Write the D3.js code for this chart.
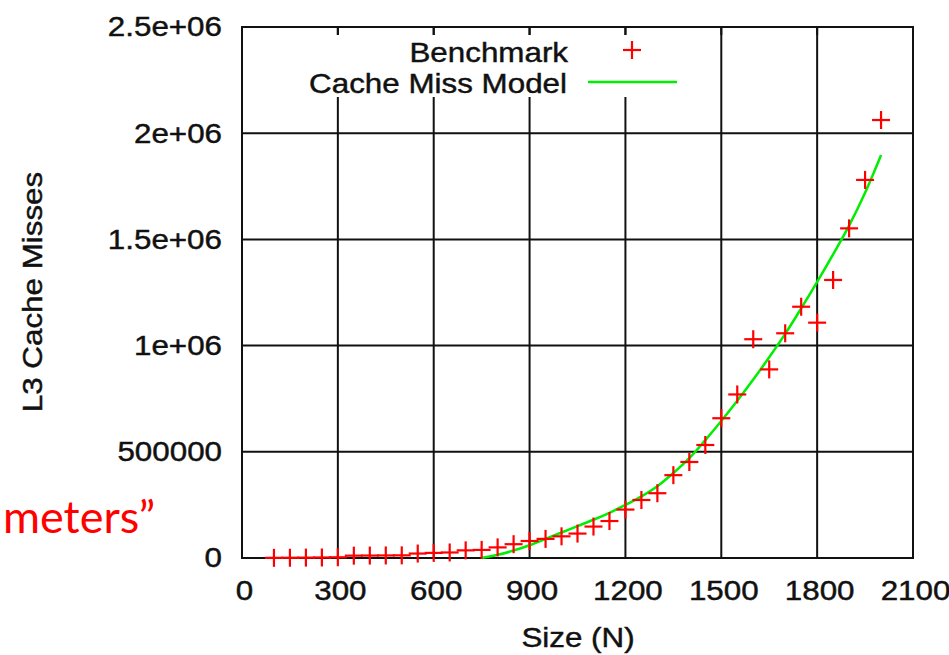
<!DOCTYPE html>
<html>
<head>
<meta charset="utf-8">
<script src="https://cdn.jsdelivr.net/npm/d3@7"></script>
<style>
  html, body { margin: 0; padding: 0; background: #fff; }
  svg { display: block; }
  text.lbl { font-family: "Liberation Sans", Arial, Helvetica, sans-serif; fill: #111;
    stroke: #111; stroke-width: 0.45px; }
</style>
</head>
<body>
<svg id="chart" width="949" height="655"></svg>
<script>
// Matrix size N and measured L3 cache misses
const benchN = [100, 150, 200, 250, 300, 350, 400, 450, 500, 550, 600, 650, 700, 750,
  800, 850, 900, 950, 1000, 1050, 1100, 1150, 1200, 1250, 1300, 1350, 1400, 1450,
  1500, 1550, 1600, 1650, 1700, 1750, 1800, 1850, 1900, 1950, 2000];
const benchMisses = [800, 1200, 1800, 2500, 3500, 11000, 11500, 12000, 12500, 21000,
  24000, 26000, 36000, 38000, 50000, 65000, 80000, 90000, 102000, 115000, 148000,
  174000, 228000, 273000, 305000, 390000, 452000, 532000, 658000, 770000, 1030000,
  888000, 1058000, 1183000, 1108000, 1309000, 1552000, 1780000, 2062000];

// Predicted misses from the cache miss model
const modelN = [750, 800, 850, 900, 950, 1000, 1050, 1100, 1150, 1200, 1250, 1300, 1350,
  1400, 1450, 1500, 1550, 1600, 1650, 1700, 1750, 1800, 1850, 1900, 1950, 2000];
const modelMisses = [0, 15000, 35000, 60000, 90000, 120000, 150000, 180000, 213000,
  250000, 290000, 338000, 400000, 470000, 555000, 645000, 740000, 840000, 945000,
  1055000, 1175000, 1300000, 1430000, 1565000, 1720000, 1897000];

// Axis ticks
const xTicks = [0, 300, 600, 900, 1200, 1500, 1800, 2100];
const yTicks = [0, 500000, 1000000, 1500000, 2000000, 2500000];
const yTickLabels = ["0", "500000", "1e+06", "1.5e+06", "2e+06", "2.5e+06"];

const seriesNames = ["Benchmark", "Cache Miss Model"];

const svg = d3.select("#chart");
const plotL = 242, plotR = 913, plotT = 27, plotB = 558;
const FS = 28, SX = 1.12;   // font size and horizontal stretch of the labels

const x = d3.scaleLinear().domain([0, 2100]).range([plotL, plotR]);
const y = d3.scaleLinear().domain([0, 2500000]).range([plotB, plotT]);

// grid
const grid = svg.append("g").attr("stroke", "#111").attr("stroke-width", 2);
grid.selectAll("line.v").data(xTicks).join("line").attr("class", "v")
  .attr("x1", d => x(d)).attr("x2", d => x(d)).attr("y1", plotT).attr("y2", plotB);
grid.selectAll("line.h").data(yTicks).join("line").attr("class", "h")
  .attr("x1", plotL).attr("x2", plotR).attr("y1", d => y(d)).attr("y2", d => y(d));

// opaque key area
svg.append("rect").attr("x", 298).attr("y", 35).attr("width", 388).attr("height", 62)
  .attr("fill", "#fff");

// mirrored ticks along the top border
svg.append("g").attr("stroke", "#111").attr("stroke-width", 2)
  .selectAll("line").data(xTicks).join("line")
  .attr("x1", d => x(d)).attr("x2", d => x(d)).attr("y1", plotT).attr("y2", plotT + 8);

// frame
svg.append("rect").attr("x", plotL).attr("y", plotT)
  .attr("width", plotR - plotL).attr("height", plotB - plotT)
  .attr("fill", "none").attr("stroke", "#111").attr("stroke-width", 2);

// axes (labels only, the frame and grid provide the lines)
const xAxis = svg.append("g").attr("transform", `translate(0,${plotB})`)
  .call(d3.axisBottom(x).tickValues(xTicks).tickSize(0).tickPadding(22).tickFormat(d3.format("d")));
const yAxis = svg.append("g").attr("transform", `translate(${plotL},0)`)
  .call(d3.axisLeft(y).tickValues(yTicks).tickSize(0).tickPadding(20)
    .tickFormat((d, i) => yTickLabels[i]));
[xAxis, yAxis].forEach(g => {
  g.select(".domain").remove();
  g.attr("font-family", null).attr("font-size", null);
  g.selectAll("text").attr("class", "lbl").attr("font-size", FS).attr("fill", null);
});
xAxis.selectAll("text").attr("x", 2 / SX).attr("transform", `scale(${SX},1)`);
yAxis.selectAll("text").attr("x", -20 / SX).attr("transform", `scale(${SX},1)`);

// axis titles
svg.append("text").attr("class", "lbl").attr("transform", `translate(578,647) scale(${SX},1)`)
  .attr("text-anchor", "middle").attr("font-size", FS).text("Size (N)");
svg.append("text").attr("class", "lbl").attr("transform", `translate(42,292) rotate(-90) scale(${SX},1)`)
  .attr("text-anchor", "middle").attr("font-size", FS).text("L3 Cache Misses");

// model curve
const line = d3.line().curve(d3.curveMonotoneX).x((d, i) => x(modelN[i])).y(d => y(d));
svg.append("path").datum(modelMisses).attr("d", line)
  .attr("fill", "none").attr("stroke", "#00ee00").attr("stroke-width", 2.5);

// benchmark markers
const plus = (g, cx, cy) => {
  g.append("line").attr("x1", cx - 9).attr("x2", cx + 9).attr("y1", cy).attr("y2", cy);
  g.append("line").attr("x1", cx).attr("x2", cx).attr("y1", cy - 9).attr("y2", cy + 9);
};
const pts = svg.append("g").attr("stroke", "#ff0000").attr("stroke-width", 2.2);
benchMisses.forEach((v, i) => plus(pts, x(benchN[i]), y(v)));

// key
const key = svg.append("g");
key.append("text").attr("class", "lbl").attr("transform", `translate(568,61.5) scale(${SX},1)`)
  .attr("text-anchor", "end").attr("font-size", FS).text(seriesNames[0]);
key.append("text").attr("class", "lbl").attr("transform", `translate(567,92.5) scale(${SX},1)`)
  .attr("text-anchor", "end").attr("font-size", FS).text(seriesNames[1]);
const keyPlus = key.append("g").attr("stroke", "#ff0000").attr("stroke-width", 2.2);
plus(keyPlus, 632, 50);
key.append("line").attr("x1", 588).attr("x2", 677).attr("y1", 82).attr("y2", 82)
  .attr("stroke", "#00ee00").attr("stroke-width", 2.5);

// slide caption fragment
svg.append("text").attr("x", 3).attr("y", 533)
  .style("font-family", 'Lato, "Open Sans", sans-serif').attr("font-size", 45)
  .style("fill", "#ff0000").text("meters\u201d");
</script>
</body>
</html>
